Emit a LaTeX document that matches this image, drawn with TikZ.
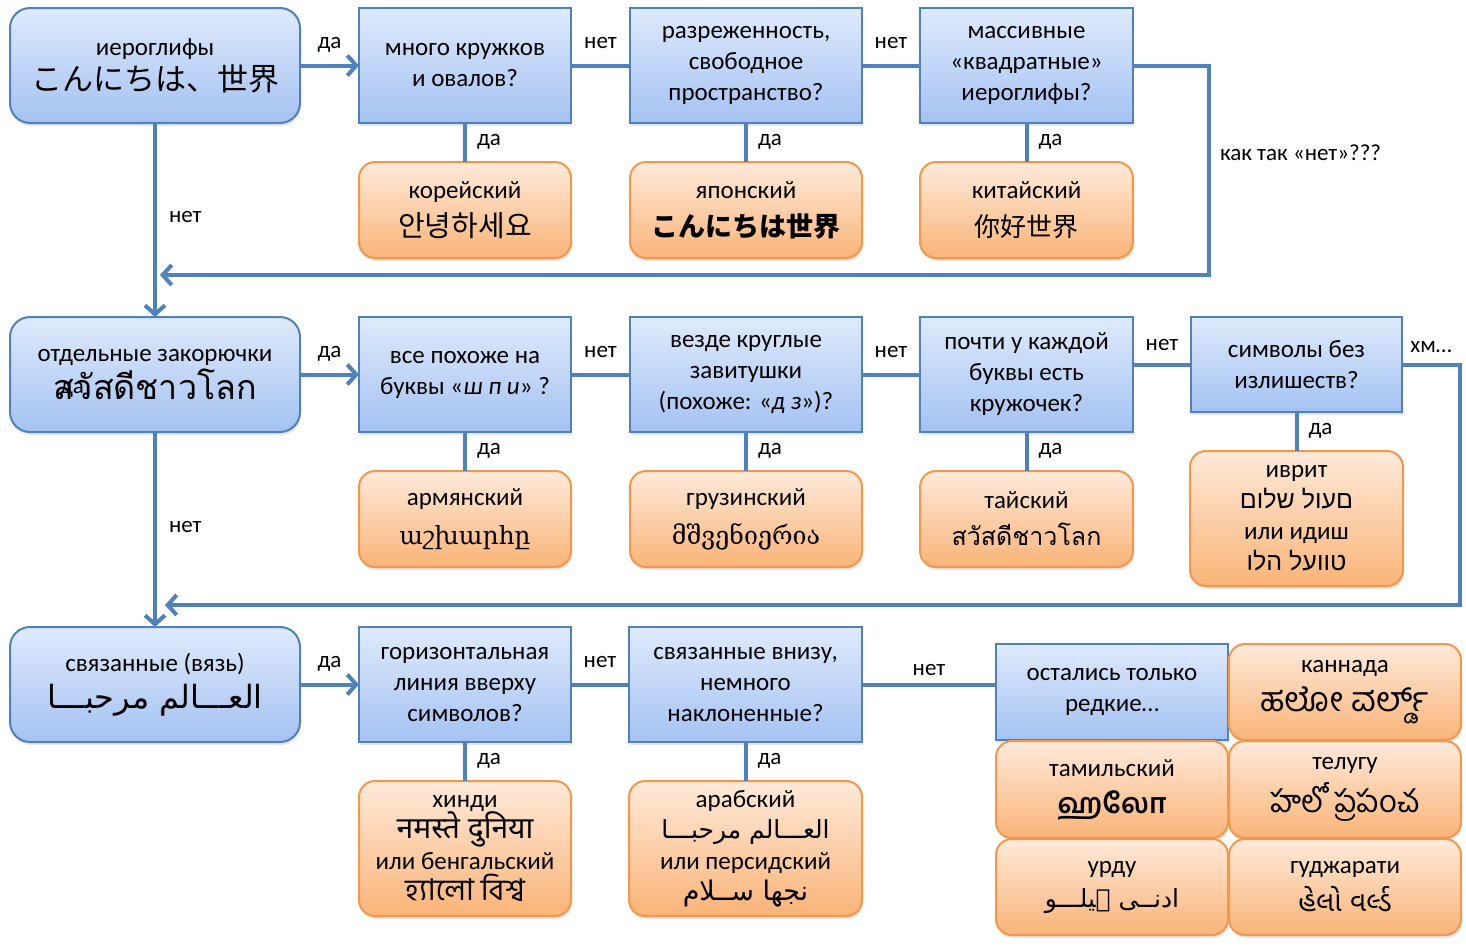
\documentclass[tikz,border=0pt]{standalone}
\usepackage{fontspec}
\setmainfont{Carlito}
\TeXXeTstate=1
\newfontfamily\jpfont{Noto Sans CJK JP}
\newfontfamily\krfont{Noto Sans CJK KR}
\newfontfamily\scfont{Noto Sans CJK SC}
\newfontfamily\thaifont[Script=Thai]{Loma}
\newfontfamily\armfont{DejaVu Serif}
\newfontfamily\geofont{DejaVu Serif}
\newfontfamily\hebfont[Script=Hebrew]{Liberation Sans}
\newfontfamily\arabicfont[Script=Arabic]{DejaVu Sans}
\newfontfamily\devafont[Script=Devanagari]{Noto Sans}
\newfontfamily\bengfont[Script=Bengali]{Hind Siliguri}
\newfontfamily\tamilfont[Script=Tamil]{Hind Madurai}
\newfontfamily\telugufont[Script=Telugu]{Hind Guntur}
\newfontfamily\kannadafont[Script=Kannada]{Hind Mysuru}
\newfontfamily\gujfont[Script=Gujarati]{Noto Sans Gujarati UI}
\usetikzlibrary{positioning,arrows.meta,shadows}
\definecolor{qtop}{RGB}{223,234,252}
\definecolor{qbottom}{RGB}{164,194,242}
\definecolor{qline}{RGB}{79,129,189}
\definecolor{atop}{RGB}{254,234,218}
\definecolor{abottom}{RGB}{250,180,120}
\definecolor{aline}{RGB}{247,150,70}
\newcommand{\sz}[1]{\fontsize{#1}{#1}\selectfont}
\tikzset{
	chart/.style={x=1pt,y=-1pt,font=\fontsize{25}{31}\selectfont},
	quest/.style={rectangle,draw=qline,line width=2pt,top color=qtop,bottom color=qbottom,
		align=center,minimum width=212pt,minimum height=115pt,inner sep=0pt,outer sep=0pt,
		drop shadow={opacity=0.2,shadow xshift=1pt,shadow yshift=-3pt}},
	start/.style={quest,rounded corners=20pt,minimum width=290pt},
	lang/.style={quest,rounded corners=16pt,draw=aline,top color=atop,bottom color=abottom,
		minimum height=96pt},
	link/.style={draw=qline,line width=4pt},
	go/.style={link,-{Straight Barb[length=9pt,width=20pt]}},
	yes/.style={font=\fontsize{23}{27}\selectfont,inner sep=3pt,text height=1.5ex,text depth=.25ex}
}

\begin{document}
\begin{tikzpicture}[chart]
	\useasboundingbox (0,0) rectangle (1466,946);
	
	% hieroglyphs
	\node[start] (hiero) at (155,65.5) {иероглифы\\[4pt]{\jpfont\sz{31}こんにちは、世界}};
	\node[quest] (circles) [right=59pt of hiero] {много кружков\\и овалов?};
	\node[quest, minimum width=232pt] (sparse) [right=59pt of circles] {разреженность,\\свободное\\пространство?};
	\node[quest, minimum width=213pt] (massive) [right=58pt of sparse] {массивные\\«квадратные»\\иероглифы?};
	\node[lang] (korean) [below=39pt of circles] {корейский\\[7pt]{\krfont\sz{29}안녕하세요}};
	\node[lang, minimum width=232pt] (japanese) [below=39pt of sparse] {японский\\[7pt]{\jpfont\bfseries\sz{27}こんにちは世界}};
	\node[lang, minimum width=213pt] (chinese) [below=39pt of massive] {китайский\\[7pt]{\scfont\sz{26}你好世界}};
	
	% separate hooks
	\node[start] (hooks) [below=194pt of hiero] {отдельные закорючки\\[2pt]{\thaifont\sz{34}สวัสดีชาวโลก}};
	\node[yes] (stray) at (72,391) {да};
	\node[quest] (shpi) [right=59pt of hooks] {все похоже на\\буквы «\textit{ш п и}» ?};
	\node[quest, minimum width=232pt] (curls) [right=59pt of shpi] {везде круглые\\завитушки\\(похоже: «\textit{д з}»)?};
	\node[quest, minimum width=213pt] (ringlet) [right=58pt of curls] {почти у каждой\\буквы есть\\кружочек?};
	\node[quest, minimum width=211pt, minimum height=95pt, right=58pt of ringlet.north east, anchor=north west] (plain) {символы без\\излишеств?};
	\node[lang] (armenian) [below=39pt of shpi] {армянский\\[8pt]{\armfont աշխարհը}};
	\node[lang, minimum width=232pt] (georgian) [below=39pt of curls] {грузинский\\[8pt]{\geofont მშვენიერია}};
	\node[lang, minimum width=213pt] (thai) [below=39pt of ringlet] {тайский\\[6pt]{\thaifont\sz{25}สวัสดีชาวโลก}};
	\node[lang, minimum width=213pt, minimum height=135pt] (hebrew) [below=39pt of plain] {иврит\\{\hebfont\beginR םעול שלום\endR}\\или идиш\\{\hebfont\beginR טוועל הלו\endR}};
	
	% joined script
	\node[start] (joined) [below=195pt of hooks] {связанные (вязь)\\[6pt]{\arabicfont\sz{32}\beginR العـــالم مرحبـــا\endR}};
	\node[quest] (topline) [right=59pt of joined] {горизонтальная\\линия вверху\\символов?};
	\node[quest, minimum width=233pt] (slanted) [right=58pt of topline] {связанные внизу,\\немного\\наклоненные?};
	\node[lang, minimum height=135pt] (hindi) [below=39pt of topline] {хинди\\{\devafont\sz{30}नमस्ते दुनिया}\\или бенгальский\\{\bengfont\sz{30}হ্যালো বিশ্ব}};
	\node[lang, minimum width=233pt, minimum height=135pt] (arabic) [below=39pt of slanted] {арабский\\{\arabicfont\beginR العـــالم مرحبـــا\endR}\\или персидский\\{\arabicfont\sz{27}\beginR نجها ســلام\endR}};
	
	% the rare ones
	\node[quest, minimum width=232pt, minimum height=96pt] (rare) at (1112,692) {остались только\\редкие…};
	\node[lang, minimum width=232pt] (kannada) [right=1pt of rare] {каннада\\[8pt]{\kannadafont\sz{34}ಹಲೋ ವರ್ಲ್ಡ್}};
	\node[lang, minimum width=232pt, minimum height=97pt] (tamil) [below=1pt of rare] {тамильский\\[6pt]{\tamilfont\bfseries\sz{28}ஹலோ}};
	\node[lang, minimum width=232pt, minimum height=97pt] (telugu) [right=1pt of tamil] {телугу\\[8pt]{\telugufont\sz{31}హలో ప్రపంచ}};
	\node[lang, minimum width=232pt] (urdu) [below=1pt of tamil] {урду\\[3pt]{\arabicfont\beginR ادنــی ہیلـــو\endR}};
	\node[lang, minimum width=232pt] (gujarati) [right=1pt of urdu] {гуджарати\\[7pt]{\gujfont\sz{28}હેલો વર્લ્ડ}};
	
	\coordinate (back1) at (160,275);
	\coordinate (back2) at (165,605);
	
	\path[go] (hiero) edge node[yes, above=11pt] {да} (circles);
	\path[go] (hooks) edge node[yes, above=11pt] {да} (shpi);
	\path[go] (joined) edge node[yes, above=11pt] {да} (topline);
	\path[go] (hiero) edge node[yes, right=9pt] {нет} (hooks);
	\path[go] (hooks) edge node[yes, right=9pt] {нет} (joined);
	
	\path[link] (circles) edge node[yes, above=11pt] {нет} (sparse);
	\path[link] (sparse) edge node[yes, above=11pt] {нет} (massive);
	\path[link] (shpi) edge node[yes, above=11pt] {нет} (curls);
	\path[link] (curls) edge node[yes, above=11pt] {нет} (ringlet);
	\path[link] (topline) edge node[yes, above=11pt] {нет} (slanted);
	\draw[link] (ringlet.east |- plain.west) -- node[yes, above=8pt] {нет} (plain.west);
	\draw[link] (slanted.east) -- node[yes, above=3pt] {нет} (slanted.east -| rare.west);
	
	\path[link] (circles) edge node[yes, right=7pt] {да} (korean);
	\path[link] (sparse) edge node[yes, right=7pt] {да} (japanese);
	\path[link] (massive) edge node[yes, right=7pt] {да} (chinese);
	\path[link] (shpi) edge node[yes, right=7pt] {да} (armenian);
	\path[link] (curls) edge node[yes, right=7pt] {да} (georgian);
	\path[link] (ringlet) edge node[yes, right=7pt] {да} (thai);
	\path[link] (plain) edge node[yes, right=7pt] {да} (hebrew);
	\path[link] (topline) edge node[yes, right=7pt] {да} (hindi);
	\path[link] (slanted) edge node[yes, right=7pt] {да} (arabic);
	
	\draw[go] (massive.east) -- ++(76,0) |- node[yes, pos=0.22, right=6pt] {как так «нет»???} (back1);
	\draw[go] (plain.east) -- node[yes, above=6pt] {хм…} ++(58,0) |- (back2);
\end{tikzpicture}
\end{document}
